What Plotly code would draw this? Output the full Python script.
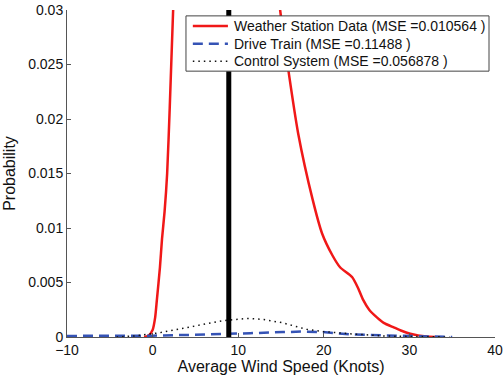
import plotly.graph_objects as go

# Weather Station Data (red solid)
ws_x = [-1.0, -0.5, 0.0, 0.3, 0.5, 0.86, 1.1, 1.4, 1.7, 2.0, 2.4, 3.0, 5.0, 8.0, 11.0, 13.0, 14.0, 14.9,
        15.8, 17.0, 18.7, 19.8, 21.0, 21.9, 23.3, 24.0, 24.6, 25.3, 26.2, 27.0, 28.1, 29.0, 30.1, 31.0, 32.0, 33.0]
ws_y = [0.0, 0.0001, 0.00064, 0.0018, 0.0034, 0.0064, 0.009, 0.0115, 0.015, 0.021, 0.030, 0.042, 0.060, 0.070, 0.060, 0.045, 0.037, 0.030,
        0.0248, 0.0187, 0.0126, 0.0095, 0.0075, 0.0064, 0.0055, 0.0045, 0.0034, 0.0025, 0.0018, 0.0013, 0.0009, 0.0006, 0.0003, 0.00015, 0.00005, 0.0]

# Drive Train (blue dashed)
dt_x = [-10, -5, 0, 4.7, 10, 11.4, 15.2, 17.6, 19.9, 23, 26.9, 30.6, 33, 35]
dt_y = [0.0001, 0.0001, 0.00012, 0.0002, 0.00028, 0.00035, 0.00045, 0.0005, 0.00045, 0.00025, 0.00015, 0.0001, 0.00004, 0.0]

# Control System (black dotted)
cs_x = [-4.2, -2, 0.9, 3, 4.7, 8.2, 11, 11.4, 13, 15.2, 18, 19.9, 23, 26.9, 30, 34.7]
cs_y = [0.0, 0.0001, 0.0004, 0.0007, 0.001, 0.0015, 0.0017, 0.0017, 0.0016, 0.0013, 0.0007, 0.0005, 0.0003, 0.0001, 0.00005, 0.0]

# Vertical marker
vline_x = [8.9, 8.9]
vline_y = [0, 0.031]

names = ["Weather Station Data (MSE =0.010564 )",
         "Drive Train (MSE =0.11488 )",
         "Control System (MSE =0.056878 )"]

x_ticks = [-10, 0, 10, 20, 30, 40]
y_ticks = [0, 0.005, 0.01, 0.015, 0.02, 0.025, 0.03]
y_labels = ["0", "0.005", "0.01", "0.015", "0.02", "0.025", "0.03"]

FONT = "Liberation Sans, Arial, sans-serif"

colors = ["#f01818", "#3553b5", "#111111"]
widths = [2.5, 2.5, 1.5]
dashes = ["solid", "10px,6px", "1.5px,4px"]

fig = go.Figure()
for xs, ys, nm, c, w, d in zip([ws_x, dt_x, cs_x], [ws_y, dt_y, cs_y], names, colors, widths, dashes):
    line = dict(color=c, width=w, dash=d)
    if nm == names[0]:
        line.update(shape="spline", smoothing=0.6)
    fig.add_trace(go.Scatter(x=xs, y=ys, mode="lines", name=nm, line=line, showlegend=False))
fig.add_trace(go.Scatter(x=vline_x, y=vline_y, mode="lines", showlegend=False,
                         line=dict(color="black", width=5)))

# Legend box drawn manually (MATLAB style)
fig.add_shape(type="rect", xref="paper", yref="paper", x0=0.278, x1=0.986, y0=0.813, y1=0.982,
              fillcolor="white", line=dict(color="#444", width=1), layer="above")
row_y = [0.951, 0.897, 0.843]
for nm, c, w, d, yy in zip(names, colors, widths, dashes, row_y):
    fig.add_shape(type="line", xref="paper", yref="paper", x0=0.294, x1=0.376, y0=yy, y1=yy,
                  line=dict(color=c, width=w, dash=d), layer="above")
    fig.add_annotation(text=nm, xref="paper", yref="paper", x=0.386, y=yy, xanchor="left",
                       yanchor="middle", showarrow=False,
                       font=dict(family=FONT, size=14, color="#111"))

axis_font = dict(family=FONT, size=14, color="#111")
fig.update_layout(
    width=504, height=380,
    margin=dict(l=67, r=9, t=10, b=43),
    paper_bgcolor="white", plot_bgcolor="white",
    font=dict(family=FONT, size=14, color="#111"),
    showlegend=False,
)
fig.update_xaxes(range=[-10, 40], tickvals=x_ticks, ticks="inside", ticklen=4,
                 showline=True, linecolor="#555", linewidth=1, showgrid=False, zeroline=False,
                 tickfont=axis_font, tickcolor="#555", automargin=False,
                 title=dict(text="Average Wind Speed (Knots)", font=dict(size=16), standoff=0))
fig.update_yaxes(range=[0, 0.03], tickvals=y_ticks, ticktext=y_labels, ticks="inside", ticklen=4,
                 showline=True, linecolor="#555", linewidth=1, showgrid=False, zeroline=False,
                 tickfont=axis_font, tickcolor="#555", automargin=False,
                 title=dict(text="Probability", font=dict(size=16), standoff=8))

fig.write_html("out.html", config={"displayModeBar": False},
               post_script="document.body.style.margin='0';")
